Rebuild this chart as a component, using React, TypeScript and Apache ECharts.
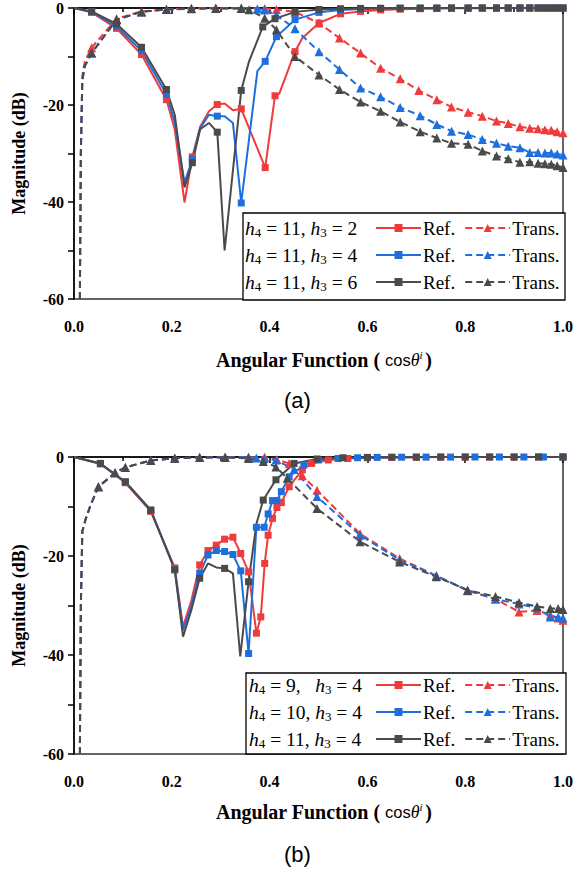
import React, { useEffect, useRef } from 'react';
import * as echarts from 'echarts';

const RED = '#ef3b3b';
const BLUE = '#1e6fdd';
const GRAY = '#4a4a4a';

// ---------- (a) h4 = 11, h3 = 2 / 4 / 6 ----------
const aRefH3_2 = [[0,0],[0.036,-0.9],[0.087,-4.2],[0.138,-9.6],[0.189,-18.9],[0.206,-25],[0.226,-40.1],[0.242,-30.7],[0.258,-24.5],[0.276,-21.3],[0.293,-19.9],[0.308,-19.7],[0.325,-21.1],[0.342,-20.8],[0.391,-32.9],[0.411,-18.1],[0.42,-17.6],[0.452,-9],[0.467,-6.2],[0.501,-3.1],[0.545,-1.2],[0.586,-0.7],[0.627,-0.4],[0.667,-0.25],[0.708,-0.15],[0.742,-0.1],[0.772,-0.07],[0.806,-0.05],[0.835,-0.04],[0.864,-0.03],[0.888,-0.02],[0.912,-0.02],[0.932,-0.01],[0.949,-0.01],[0.963,-0.01],[0.976,0],[0.988,0],[1,0]];
const aRefH3_2Bare = [0,0.206,0.226,0.258,0.276,0.308,0.325,0.42,0.467];
const aRefH3_4 = [[0,0],[0.036,-0.8],[0.087,-3.8],[0.138,-8.8],[0.189,-17.8],[0.206,-23.5],[0.226,-36],[0.242,-31.2],[0.258,-24.8],[0.276,-22],[0.293,-22.3],[0.308,-22.3],[0.325,-23.7],[0.342,-40.2],[0.375,-13],[0.391,-11],[0.414,-5.9],[0.452,-2.4],[0.501,-0.9],[0.545,-0.4],[0.586,-0.2],[0.627,-0.1],[0.667,-0.06],[0.708,-0.04],[0.742,-0.03],[0.772,-0.02],[0.806,-0.02],[0.835,-0.01],[0.864,-0.01],[0.888,0],[0.912,0],[0.932,0],[0.949,0],[0.963,0],[0.976,0],[0.988,0],[1,0]];
const aRefH3_4Bare = [0,0.206,0.226,0.258,0.276,0.308,0.325,0.375];
const aRefH3_6 = [[0,0],[0.036,-0.7],[0.087,-3.3],[0.138,-8.1],[0.189,-16.8],[0.206,-22],[0.226,-37],[0.242,-31.9],[0.258,-25],[0.276,-23.7],[0.293,-25.6],[0.308,-50],[0.342,-17],[0.358,-11],[0.386,-3.9],[0.411,-2.2],[0.452,-0.8],[0.501,-0.3],[0.545,-0.15],[0.586,-0.08],[0.627,-0.05],[0.667,-0.03],[0.708,-0.02],[0.742,-0.01],[0.772,0],[0.806,0],[0.835,0],[0.864,0],[0.888,0],[0.912,0],[0.932,0],[0.949,0],[0.963,0],[0.976,0],[0.988,0],[1,0]];
const aRefH3_6Bare = [0,0.206,0.226,0.258,0.276,0.308,0.358];
const aTransH3_2 = [[0.012,-60],[0.014,-30],[0.017,-14],[0.022,-11],[0.036,-8.2],[0.087,-2.2],[0.138,-0.7],[0.189,-0.3],[0.24,-0.1],[0.29,-0.05],[0.342,-0.05],[0.39,-0.1],[0.414,-0.3],[0.452,-0.8],[0.501,-3.1],[0.543,-6.2],[0.586,-9.3],[0.627,-12.4],[0.667,-14.6],[0.705,-17],[0.742,-18.9],[0.772,-20.4],[0.806,-21.5],[0.835,-22.3],[0.864,-23.3],[0.888,-23.8],[0.912,-24.5],[0.932,-24.8],[0.949,-24.9],[0.963,-25.1],[0.976,-25.2],[0.988,-25.5],[1,-25.7]];
const aTransH3_4 = [[0.012,-60],[0.014,-30],[0.017,-15],[0.022,-12],[0.036,-9.3],[0.087,-2.4],[0.138,-0.8],[0.189,-0.3],[0.24,-0.1],[0.29,-0.05],[0.342,-0.05],[0.375,-0.2],[0.39,-0.4],[0.414,-1.4],[0.452,-4.3],[0.501,-9],[0.543,-12.7],[0.586,-16.5],[0.627,-18.3],[0.667,-20.5],[0.708,-22.2],[0.742,-24],[0.772,-25.4],[0.806,-26.1],[0.835,-27.1],[0.864,-27.9],[0.888,-28.5],[0.912,-28.8],[0.932,-29.8],[0.949,-29.8],[0.963,-29.9],[0.976,-29.9],[0.988,-30.1],[1,-30.3]];
const aTransH3_6 = [[0.012,-60],[0.014,-30],[0.017,-15],[0.022,-12],[0.036,-9.3],[0.087,-2.4],[0.138,-0.8],[0.189,-0.3],[0.24,-0.15],[0.29,-0.1],[0.342,-0.1],[0.358,-0.35],[0.39,-2.1],[0.414,-4.5],[0.452,-10],[0.501,-13.8],[0.543,-16.8],[0.586,-19.4],[0.627,-21.3],[0.667,-23.5],[0.708,-25.5],[0.742,-26.8],[0.772,-27.9],[0.806,-28.1],[0.835,-29.5],[0.864,-30.5],[0.888,-31.1],[0.912,-31.8],[0.932,-31.7],[0.949,-32],[0.963,-32.1],[0.976,-32.2],[0.988,-32.5],[1,-32.9]];
const aTransBare = [0.012,0.014,0.017,0.022];

// ---------- (b) h3 = 4, h4 = 9 / 10 / 11 ----------
const bRefH4_9 = [[0,0],[0.054,-1.4],[0.105,-5.2],[0.157,-11],[0.206,-22.4],[0.223,-34.3],[0.24,-29],[0.257,-21.8],[0.274,-18.9],[0.291,-17.8],[0.308,-16.6],[0.325,-16.2],[0.341,-19.5],[0.357,-23.2],[0.373,-35.6],[0.382,-32.3],[0.39,-21.5],[0.397,-15.8],[0.406,-12.4],[0.415,-10.2],[0.424,-9.2],[0.44,-6],[0.467,-2.6],[0.486,-1.3],[0.52,-0.6],[0.56,-0.3],[0.6,-0.15],[0.65,-0.08],[0.7,-0.04],[0.75,-0.02],[0.8,-0.01],[0.85,0],[0.9,0],[0.95,0],[1,0]];
const bRefH4_9Bare = [0,0.223,0.24];
const bRefH4_10 = [[0,0],[0.054,-1.3],[0.105,-5.1],[0.157,-10.8],[0.206,-22.6],[0.223,-35],[0.24,-30],[0.257,-23.5],[0.274,-19.8],[0.291,-18.9],[0.308,-19.1],[0.325,-19.7],[0.341,-23],[0.357,-39.7],[0.373,-14.2],[0.389,-14.2],[0.397,-11.5],[0.406,-8.8],[0.415,-8.8],[0.424,-7],[0.44,-4],[0.47,-1.6],[0.5,-0.6],[0.54,-0.3],[0.58,-0.15],[0.62,-0.08],[0.67,-0.04],[0.72,-0.02],[0.77,-0.01],[0.82,0],[0.87,0],[0.92,0],[0.96,0],[1,0]];
const bRefH4_10Bare = [0,0.223,0.24];
const bRefH4_11 = [[0,0],[0.054,-1.3],[0.105,-5],[0.157,-10.7],[0.206,-22.8],[0.223,-36.3],[0.24,-30.9],[0.257,-24.5],[0.274,-21.5],[0.291,-22.3],[0.308,-22.5],[0.325,-23.5],[0.34,-40.3],[0.357,-25.2],[0.373,-13.5],[0.387,-8.7],[0.413,-4.6],[0.45,-1.3],[0.497,-0.4],[0.55,-0.15],[0.6,-0.08],[0.65,-0.04],[0.7,-0.02],[0.75,-0.01],[0.8,0],[0.85,0],[0.9,0],[0.95,0],[1,0]];
const bRefH4_11Bare = [0,0.223,0.24,0.274,0.291,0.325,0.34,0.373];
const bTransH4_9 = [[0.012,-60],[0.014,-30],[0.017,-15],[0.024,-12.5],[0.034,-9.7],[0.05,-6],[0.084,-3.2],[0.105,-2.1],[0.157,-0.7],[0.206,-0.25],[0.257,-0.1],[0.309,-0.05],[0.357,-0.03],[0.39,-0.05],[0.415,-0.5],[0.44,-1.3],[0.467,-3.8],[0.497,-6.7],[0.585,-15.5],[0.666,-20.5],[0.741,-24],[0.805,-27],[0.862,-28.7],[0.91,-31.3],[0.947,-31],[0.974,-31.9],[0.99,-32.5],[1,-33]];
const bTransH4_10 = [[0.012,-60],[0.014,-30],[0.017,-15],[0.024,-12.5],[0.034,-9.7],[0.05,-6],[0.084,-3.2],[0.105,-2.1],[0.157,-0.7],[0.206,-0.25],[0.257,-0.1],[0.309,-0.05],[0.357,-0.05],[0.373,-0.2],[0.389,-0.3],[0.413,-0.6],[0.45,-2.5],[0.497,-8],[0.585,-15.8],[0.666,-20.8],[0.741,-24],[0.805,-26.9],[0.862,-28.7],[0.91,-29.7],[0.947,-30.5],[0.974,-32.3],[0.99,-32.3],[1,-32.5]];
const bTransH4_11 = [[0.012,-60],[0.014,-30],[0.017,-15],[0.024,-12.5],[0.034,-9.7],[0.05,-6],[0.084,-3.2],[0.105,-2.1],[0.157,-0.7],[0.206,-0.25],[0.257,-0.1],[0.309,-0.1],[0.357,-0.3],[0.387,-0.9],[0.413,-2],[0.436,-4.3],[0.497,-10.4],[0.585,-17.1],[0.666,-21.2],[0.741,-24.2],[0.805,-26.9],[0.862,-28.2],[0.91,-29.4],[0.947,-30.2],[0.974,-30.6],[0.99,-30.6],[1,-30.8]];
const bTransBare = [0.012,0.014,0.017,0.024,0.034];

const aLabels = ['{i|h}{sub|4}{n| = 11, }{i|h}{sub|3}{n| = 2}', '{i|h}{sub|4}{n| = 11, }{i|h}{sub|3}{n| = 4}', '{i|h}{sub|4}{n| = 11, }{i|h}{sub|3}{n| = 6}'];
const bLabels = ['{i|h}{sub|4}{n| = 9,   }{i|h}{sub|3}{n| = 4}', '{i|h}{sub|4}{n| = 10, }{i|h}{sub|3}{n| = 4}', '{i|h}{sub|4}{n| = 11, }{i|h}{sub|3}{n| = 4}'];

const SERIF = 'Liberation Serif, Times New Roman, serif';
const SANS = 'Liberation Sans, Arial, sans-serif';

function mk(name: string, data: number[][], bare: number[], color: string, dashed: boolean, g: number) {
  return {
    type: 'line', name, xAxisIndex: g, yAxisIndex: g,
    data: data.map(([x, y]) => (bare.includes(x) ? { value: [x, y], symbol: 'none' } : [x, y])),
    symbol: dashed ? 'triangle' : 'rect',
    symbolSize: dashed ? 9 : 7,
    showAllSymbol: true,
    lineStyle: { color, width: 2, type: dashed ? [7, 4] : 'solid' },
    itemStyle: { color },
    z: 2,
  };
}

const richLabel = {
  i: { fontFamily: SERIF, fontStyle: 'italic', fontSize: 19.5, lineHeight: 22, color: '#000' },
  n: { fontFamily: SERIF, fontSize: 19.5, lineHeight: 22, color: '#000' },
  sub: { fontFamily: SERIF, fontSize: 13, lineHeight: 12, verticalAlign: 'bottom', color: '#000' },
};
const richTitle = {
  b: { fontFamily: SERIF, fontWeight: 'bold', fontSize: 20, lineHeight: 22, color: '#000' },
  s: { fontFamily: SANS, fontSize: 16.5, lineHeight: 22, color: '#000' },
  th: { fontFamily: SERIF, fontStyle: 'italic', fontSize: 18, lineHeight: 22, color: '#000' },
  sup: { fontFamily: SERIF, fontStyle: 'italic', fontSize: 11, lineHeight: 11, verticalAlign: 'top', color: '#000' },
};
const titleText = '{b|Angular Function (}{s| cos}{th|θ}{sup|i }{b|)}';

function axes(g: number) {
  const x = {
    type: 'value', gridIndex: g, min: 0, max: 1, interval: 0.2,
    axisLine: { show: true, lineStyle: { color: '#000', width: 1.5 } },
    axisTick: { show: true, inside: false, length: 6, lineStyle: { color: '#000', width: 1.5 } },
    minorTick: { show: true, splitNumber: 2, length: 4, lineStyle: { color: '#000', width: 1.5 } },
    splitLine: { show: false },
    axisLabel: { formatter: (v: number) => v.toFixed(1), fontFamily: SERIF, fontWeight: 'bold', fontSize: 16, color: '#000', margin: 19 },
  };
  const y = {
    type: 'value', gridIndex: g, min: -60, max: 0, interval: 20,
    name: 'Magnitude (dB)', nameLocation: 'middle', nameGap: 46,
    nameTextStyle: { fontFamily: SERIF, fontWeight: 'bold', fontSize: 18, color: '#000' },
    axisLine: { show: true, lineStyle: { color: '#000', width: 1.5 } },
    axisTick: { show: true, inside: false, length: 6, lineStyle: { color: '#000', width: 1.5 } },
    minorTick: { show: true, splitNumber: 2, length: 6, lineStyle: { color: '#000', width: 1.5 } },
    splitLine: { show: false },
    axisLabel: { fontFamily: SERIF, fontWeight: 'bold', fontSize: 16, color: '#000', margin: 10 },
  };
  return { x, y };
}

function legendRow(names: string[], top: number) {
  return {
    data: names, left: 375, top, orient: 'horizontal', padding: 0,
    itemWidth: 45, itemHeight: 10, itemGap: 9, selectedMode: false, z: 10,
    formatter: (n: string) => n.split(' ')[0],
    textStyle: { fontFamily: SERIF, fontSize: 19, color: '#000', lineHeight: 20, padding: [0, 0, 0, -3] },
  };
}

export default function App() {
  const ref = useRef<HTMLDivElement>(null);
  useEffect(() => {
    if (!ref.current) return;
    const chart = echarts.init(ref.current, undefined, { renderer: 'svg' });
    const A = axes(0);
    const B = axes(1);
    const aRows = [230, 257, 284];
    const bRows = [687, 714, 741];
    const graphic: any[] = [
      { type: 'rect', z: 5, shape: { x: 243, y: 213, width: 322, height: 87 }, style: { fill: '#fff', stroke: '#000', lineWidth: 1.3 } },
      { type: 'rect', z: 5, shape: { x: 246, y: 673, width: 320, height: 81 }, style: { fill: '#fff', stroke: '#000', lineWidth: 1.3 } },
      { type: 'text', z: 6, left: 216, top: 349, style: { text: titleText, rich: richTitle } },
      { type: 'text', z: 6, left: 216, top: 801, style: { text: titleText, rich: richTitle } },
      { type: 'text', z: 6, left: 284, top: 389, style: { text: '(a)', fontFamily: SANS, fontSize: 22, fill: '#000' } },
      { type: 'text', z: 6, left: 284, top: 843, style: { text: '(b)', fontFamily: SANS, fontSize: 22, fill: '#000' } },
    ];
    aLabels.forEach((t, k) => graphic.push({ type: 'text', z: 6, left: 245, top: aRows[k] - 12, style: { text: t, rich: richLabel } }));
    bLabels.forEach((t, k) => graphic.push({ type: 'text', z: 6, left: 249, top: bRows[k] - 12, style: { text: t, rich: richLabel } }));

    chart.setOption({
      animation: false,
      backgroundColor: '#fff',
      grid: [
        { left: 74, top: 8, width: 491, height: 291, show: true, borderColor: '#333', borderWidth: 1.5, containLabel: false },
        { left: 74, top: 457, width: 492, height: 297, show: true, borderColor: '#333', borderWidth: 1.5, containLabel: false },
      ],
      xAxis: [A.x, B.x],
      yAxis: [A.y, B.y],
      legend: [
        legendRow(['Ref. a2', 'Trans. a2'], aRows[0] - 12),
        legendRow(['Ref. a4', 'Trans. a4'], aRows[1] - 12),
        legendRow(['Ref. a6', 'Trans. a6'], aRows[2] - 12),
        legendRow(['Ref. b9', 'Trans. b9'], bRows[0] - 12),
        legendRow(['Ref. b10', 'Trans. b10'], bRows[1] - 12),
        legendRow(['Ref. b11', 'Trans. b11'], bRows[2] - 12),
      ],
      graphic,
      series: [
        mk('Ref. a2', aRefH3_2, aRefH3_2Bare, RED, false, 0),
        mk('Trans. a2', aTransH3_2, aTransBare, RED, true, 0),
        mk('Ref. a4', aRefH3_4, aRefH3_4Bare, BLUE, false, 0),
        mk('Trans. a4', aTransH3_4, aTransBare, BLUE, true, 0),
        mk('Ref. a6', aRefH3_6, aRefH3_6Bare, GRAY, false, 0),
        mk('Trans. a6', aTransH3_6, aTransBare, GRAY, true, 0),
        mk('Ref. b9', bRefH4_9, bRefH4_9Bare, RED, false, 1),
        mk('Trans. b9', bTransH4_9, bTransBare, RED, true, 1),
        mk('Ref. b10', bRefH4_10, bRefH4_10Bare, BLUE, false, 1),
        mk('Trans. b10', bTransH4_10, bTransBare, BLUE, true, 1),
        mk('Ref. b11', bRefH4_11, bRefH4_11Bare, GRAY, false, 1),
        mk('Trans. b11', bTransH4_11, bTransBare, GRAY, true, 1),
      ],
    } as any);
    return () => chart.dispose();
  }, []);
  return <div ref={ref} style={{ position: 'absolute', left: 0, top: 0, width: 576, height: 871, background: '#fff' }} />;
}
